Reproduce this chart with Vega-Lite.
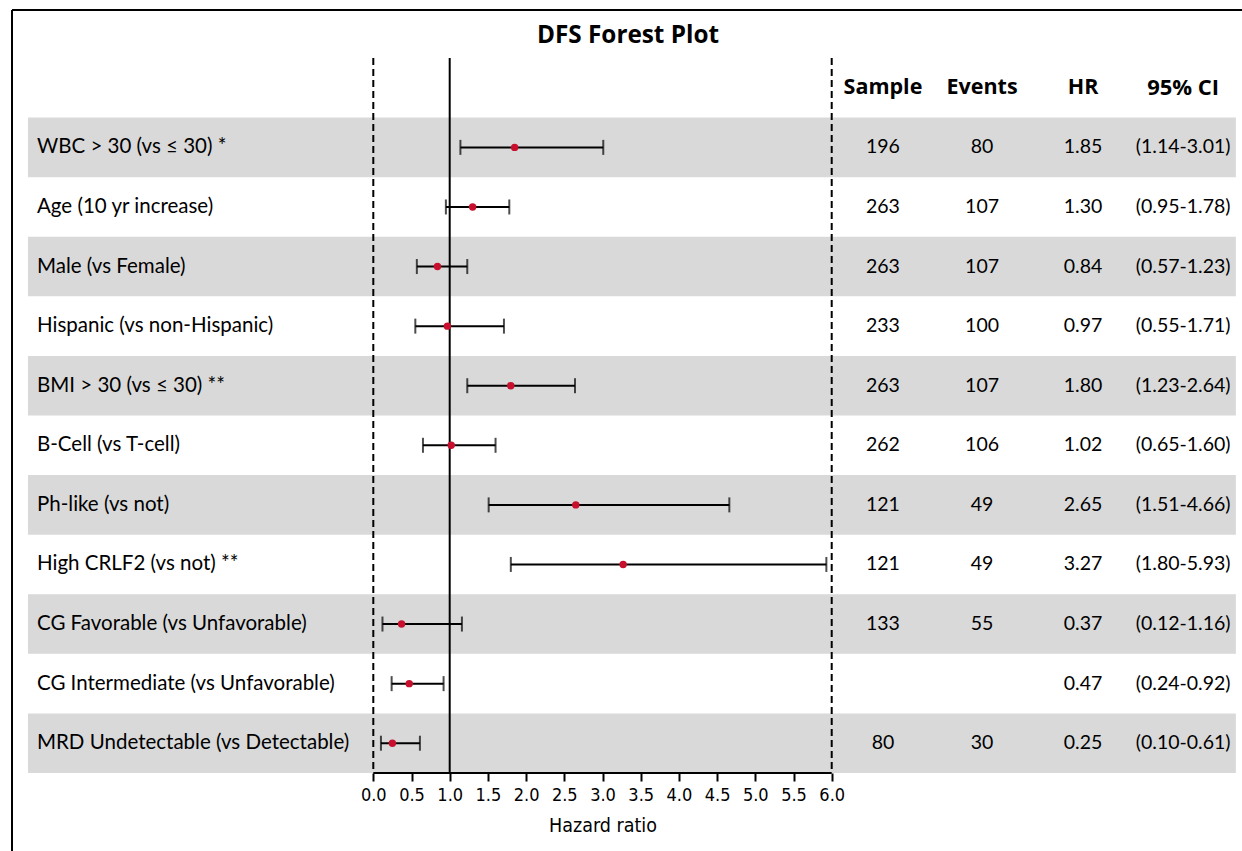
{
  "$schema": "https://vega.github.io/schema/vega-lite/v6.json",
  "width": 1250,
  "height": 763,
  "autosize": "none",
  "padding": {"left": 12, "top": 10, "right": 0, "bottom": 88},
  "config": {
    "view": {"stroke": null},
    "text": {"font": "Lato", "fontSize": 19.5, "color": "#000000"}
  },
  "title": {
    "text": "DFS Forest Plot",
    "font": "Open Sans",
    "fontSize": 24.3,
    "fontWeight": "bold",
    "color": "#000000",
    "anchor": "middle",
    "frame": "group",
    "baseline": "middle",
    "offset": -51,
    "dx": -9
  },
  "data": {
    "values": [
      {"label": "WBC > 30 (vs ≤ 30) *", "sample": 196, "events": 80, "hr": 1.85, "lo": 1.14, "hi": 3.01},
      {"label": "Age (10 yr increase)", "sample": 263, "events": 107, "hr": 1.30, "lo": 0.95, "hi": 1.78},
      {"label": "Male (vs Female)", "sample": 263, "events": 107, "hr": 0.84, "lo": 0.57, "hi": 1.23},
      {"label": "Hispanic (vs non-Hispanic)", "sample": 233, "events": 100, "hr": 0.97, "lo": 0.55, "hi": 1.71},
      {"label": "BMI > 30 (vs ≤ 30) **", "sample": 263, "events": 107, "hr": 1.80, "lo": 1.23, "hi": 2.64},
      {"label": "B-Cell (vs T-cell)", "sample": 262, "events": 106, "hr": 1.02, "lo": 0.65, "hi": 1.60},
      {"label": "Ph-like (vs not)", "sample": 121, "events": 49, "hr": 2.65, "lo": 1.51, "hi": 4.66},
      {"label": "High CRLF2 (vs not) **", "sample": 121, "events": 49, "hr": 3.27, "lo": 1.80, "hi": 5.93},
      {"label": "CG Favorable (vs Unfavorable)", "sample": 133, "events": 55, "hr": 0.37, "lo": 0.12, "hi": 1.16},
      {"label": "CG Intermediate (vs Unfavorable)", "sample": null, "events": null, "hr": 0.47, "lo": 0.24, "hi": 0.92},
      {"label": "MRD Undetectable (vs Detectable)", "sample": 80, "events": 30, "hr": 0.25, "lo": 0.10, "hi": 0.61}
    ]
  },
  "encoding": {
    "y": {
      "field": "label",
      "type": "nominal",
      "axis": null,
      "scale": {
        "domain": [
          "Header",
          "WBC > 30 (vs ≤ 30) *",
          "Age (10 yr increase)",
          "Male (vs Female)",
          "Hispanic (vs non-Hispanic)",
          "BMI > 30 (vs ≤ 30) **",
          "B-Cell (vs T-cell)",
          "Ph-like (vs not)",
          "High CRLF2 (vs not) **",
          "CG Favorable (vs Unfavorable)",
          "CG Intermediate (vs Unfavorable)",
          "MRD Undetectable (vs Detectable)"
        ],
        "paddingInner": 0,
        "paddingOuter": 0.4028,
        "align": 1
      }
    }
  },
  "layer": [
    {
      "transform": [
        {"window": [{"op": "row_number", "as": "rn"}]},
        {"filter": "datum.rn % 2 == 1"}
      ],
      "mark": {"type": "rect", "color": "#d9d9d9"},
      "encoding": {
        "x": {"datum": -4.52},
        "x2": {"datum": 11.29}
      }
    },
    {
      "data": {"values": [{}]},
      "mark": {"type": "rule", "color": "black", "strokeWidth": 2},
      "encoding": {
        "x": {"datum": -4.729},
        "x2": {"datum": 12.5},
        "y": {"datum": "Header", "bandPosition": -0.8056}
      }
    },
    {
      "data": {"values": [{}]},
      "mark": {"type": "rule", "color": "black", "strokeWidth": 2},
      "encoding": {
        "x": {"datum": -4.729},
        "y": {"datum": "Header", "bandPosition": -0.8056},
        "y2": {"datum": "MRD Undetectable (vs Detectable)", "bandPosition": 3}
      }
    },
    {
      "data": {"values": [{}]},
      "mark": {"type": "rule", "color": "black", "strokeWidth": 2, "strokeDash": [7, 4]},
      "encoding": {
        "x": {"datum": 0},
        "y": {"datum": "Header", "bandPosition": 0},
        "y2": {"datum": "MRD Undetectable (vs Detectable)", "bandPosition": 1}
      }
    },
    {
      "data": {"values": [{}]},
      "mark": {"type": "rule", "color": "black", "strokeWidth": 2, "strokeDash": [7, 4]},
      "encoding": {
        "x": {"datum": 6},
        "y": {"datum": "Header", "bandPosition": 0},
        "y2": {"datum": "MRD Undetectable (vs Detectable)", "bandPosition": 1}
      }
    },
    {
      "data": {"values": [{}]},
      "mark": {"type": "rule", "color": "black", "strokeWidth": 2},
      "encoding": {
        "x": {"datum": 1},
        "y": {"datum": "Header", "bandPosition": 0},
        "y2": {"datum": "MRD Undetectable (vs Detectable)", "bandPosition": 1}
      }
    },
    {
      "data": {"values": [{}]},
      "mark": {"type": "rule", "color": "black", "strokeWidth": 2},
      "encoding": {
        "x": {"datum": 0},
        "x2": {"datum": 6},
        "y": {"datum": "MRD Undetectable (vs Detectable)", "bandPosition": 1}
      }
    },
    {
      "mark": {"type": "rule", "color": "black", "strokeWidth": 2},
      "encoding": {
        "x": {
          "field": "lo",
          "type": "quantitative",
          "scale": {"domain": [-4.729, 11.632], "nice": false, "zero": false},
          "axis": {
            "orient": "bottom",
            "values": [0, 0.5, 1, 1.5, 2, 2.5, 3, 3.5, 4, 4.5, 5, 5.5, 6],
            "format": ".1f",
            "domain": false,
            "grid": false,
            "ticks": true,
            "tickSize": 8,
            "tickWidth": 2,
            "tickColor": "black",
            "labelFont": "DejaVu Sans Condensed, Roboto Condensed, Roboto, sans-serif",
            "labelFontSize": 18,
            "labelColor": "black",
            "labelPadding": 5,
            "labelFlush": false,
            "labelOverlap": false,
            "title": "Hazard ratio",
            "titleFont": "DejaVu Sans Condensed, Roboto Condensed, Roboto, sans-serif",
            "titleFontSize": 19.5,
            "titleFontWeight": "normal",
            "titleColor": "black",
            "titleX": 590.5,
            "titlePadding": 12
          }
        },
        "x2": {"field": "hi"}
      }
    },
    {
      "mark": {"type": "tick", "color": "black", "size": 15, "thickness": 2},
      "encoding": {"x": {"field": "lo", "type": "quantitative"}}
    },
    {
      "mark": {"type": "tick", "color": "black", "size": 15, "thickness": 2},
      "encoding": {"x": {"field": "hi", "type": "quantitative"}}
    },
    {
      "mark": {"type": "circle", "color": "#c8102e", "opacity": 1, "size": 55},
      "encoding": {"x": {"field": "hr", "type": "quantitative"}}
    },
    {
      "mark": {"type": "text", "align": "left", "baseline": "middle", "fontSize": 20.5},
      "encoding": {
        "x": {"datum": -4.402},
        "text": {"field": "label"}
      }
    },
    {
      "transform": [{"filter": "isValid(datum.sample)"}],
      "mark": {"type": "text", "align": "center", "baseline": "middle"},
      "encoding": {
        "x": {"datum": 6.671},
        "text": {"field": "sample", "type": "nominal"}
      }
    },
    {
      "transform": [{"filter": "isValid(datum.events)"}],
      "mark": {"type": "text", "align": "center", "baseline": "middle"},
      "encoding": {
        "x": {"datum": 7.968},
        "text": {"field": "events", "type": "nominal"}
      }
    },
    {
      "mark": {"type": "text", "align": "center", "baseline": "middle"},
      "encoding": {
        "x": {"datum": 9.29},
        "text": {"field": "hr", "type": "quantitative", "format": ".2f"}
      }
    },
    {
      "transform": [
        {"calculate": "'(' + format(datum.lo, '.2f') + '-' + format(datum.hi, '.2f') + ')'", "as": "ci"}
      ],
      "mark": {"type": "text", "align": "center", "baseline": "middle"},
      "encoding": {
        "x": {"datum": 10.6},
        "text": {"field": "ci", "type": "nominal"}
      }
    },
    {
      "data": {"values": [{}]},
      "mark": {"type": "text", "align": "center", "baseline": "middle", "font": "Open Sans", "fontWeight": "bold", "fontSize": 21.5},
      "encoding": {
        "x": {"datum": 6.671},
        "y": {"datum": "Header"},
        "text": {"value": "Sample"}
      }
    },
    {
      "data": {"values": [{}]},
      "mark": {"type": "text", "align": "center", "baseline": "middle", "font": "Open Sans", "fontWeight": "bold", "fontSize": 21.5},
      "encoding": {
        "x": {"datum": 7.968},
        "y": {"datum": "Header"},
        "text": {"value": "Events"}
      }
    },
    {
      "data": {"values": [{}]},
      "mark": {"type": "text", "align": "center", "baseline": "middle", "font": "Open Sans", "fontWeight": "bold", "fontSize": 21.5},
      "encoding": {
        "x": {"datum": 9.29},
        "y": {"datum": "Header"},
        "text": {"value": "HR"}
      }
    },
    {
      "data": {"values": [{}]},
      "mark": {"type": "text", "align": "center", "baseline": "middle", "font": "Open Sans", "fontWeight": "bold", "fontSize": 22},
      "encoding": {
        "x": {"datum": 10.6},
        "y": {"datum": "Header"},
        "text": {"value": "95% CI"}
      }
    }
  ]
}
